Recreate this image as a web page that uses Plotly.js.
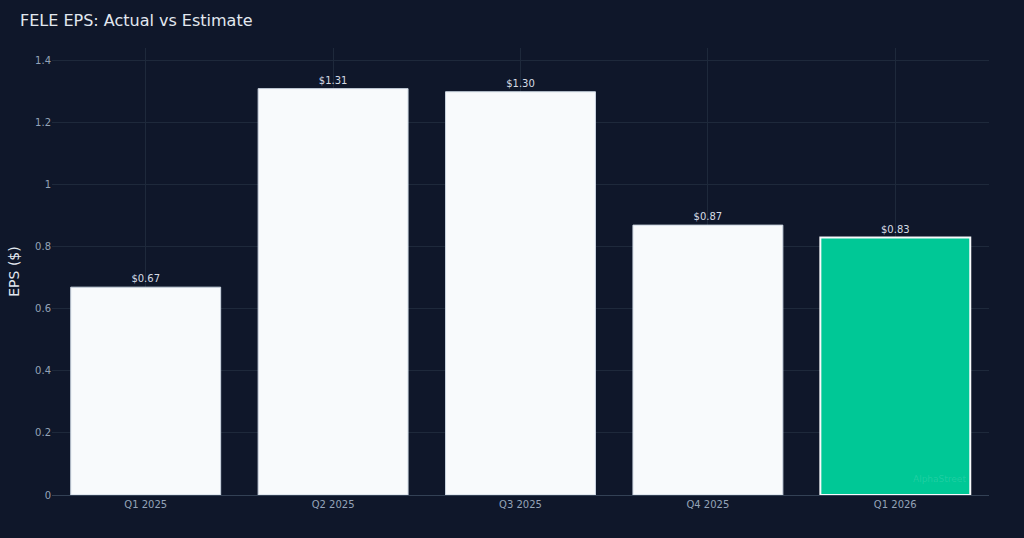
<!DOCTYPE html>
<html>
<head>
<meta charset="utf-8">
<script src="https://cdn.plot.ly/plotly-3.0.1.min.js"></script>
<style>html,body{margin:0;padding:0;background:#0f172a;}#chart{width:1024px;height:538px;}</style>
</head>
<body>
<div id="chart"></div>
<script>
// Quarterly EPS values
const quarters = ['Q1 2025', 'Q2 2025', 'Q3 2025', 'Q4 2025', 'Q1 2026'];
const epsActual = [0.67, 1.31, 1.30, 0.87, 0.83];
const epsLabels = ['$0.67', '$1.31', '$1.30', '$0.87', '$0.83'];
const barColors = ['#f8fafc', '#f8fafc', '#f8fafc', '#f8fafc', '#00c896'];
const edgeColors = ['#cbd5e1', '#cbd5e1', '#cbd5e1', '#cbd5e1', '#f8fafc'];
const edgeWidths = [1, 1, 1, 1, 2];

const trace = {
  type: 'bar',
  x: quarters,
  y: epsActual,
  text: epsLabels,
  textposition: 'outside',
  cliponaxis: false,
  textfont: {family: 'DejaVu Sans', size: 10, color: '#d5dbe4'},
  marker: {color: barColors, line: {color: edgeColors, width: edgeWidths}},
  hoverinfo: 'x+y'
};

const layout = {
  width: 1024,
  height: 538,
  paper_bgcolor: '#0f172a',
  plot_bgcolor: '#0f172a',
  margin: {l: 52, r: 35, t: 48, b: 43},
  bargap: 0.2,
  showlegend: false,
  font: {family: 'DejaVu Sans', color: '#94a3b8'},
  title: {text: 'FELE EPS: Actual vs Estimate', x: 0.0195, xanchor: 'left', y: 0.963, yanchor: 'middle',
          font: {family: 'DejaVu Sans', size: 16, color: '#e2e8f0'}},
  xaxis: {
    type: 'category',
    showgrid: true, gridcolor: '#1e293b', gridwidth: 1,
    tickfont: {size: 10, color: '#94a3b8'},
    ticklabelstandoff: 2,
    showline: false, zeroline: false, ticks: ''
  },
  yaxis: {
    range: [0, 1.441],
    showgrid: true, gridcolor: '#1e293b', gridwidth: 1,
    zeroline: true, zerolinecolor: '#334155', zerolinewidth: 1,
    tickvals: [0, 0.2, 0.4, 0.6, 0.8, 1, 1.2, 1.4],
    ticktext: ['0', '0.2', '0.4', '0.6', '0.8', '1', '1.2', '1.4'],
    tickfont: {size: 10, color: '#94a3b8'},
    title: {text: 'EPS ($)', font: {size: 14, color: '#e2e8f0'}, standoff: 12}
  },
  annotations: [{
    text: 'AlphaStreet', xref: 'paper', yref: 'paper', x: 0.9776, y: 0.036,
    xanchor: 'right', yanchor: 'middle', showarrow: false,
    font: {size: 9, color: 'rgba(255,255,255,0.13)'}
  }]
};

Plotly.newPlot('chart', [trace], layout, {displayModeBar: false, responsive: false});
</script>
</body>
</html>
